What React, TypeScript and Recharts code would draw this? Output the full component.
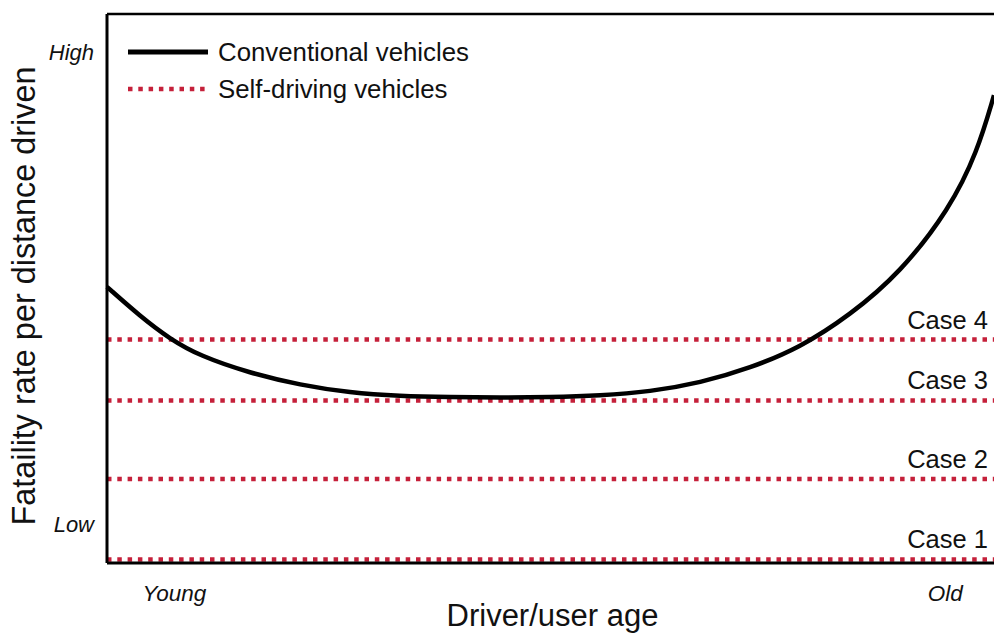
import React from "react";
import { LineChart, Line, XAxis, YAxis, ReferenceLine, Legend, Label } from "recharts";

// curve of conventional vehicles (age is 0..100 along the axis, rate is 0..100 relative)
const ages = [0, 3.7, 7.1, 10.5, 16.1, 21.8, 27.4, 33.0, 38.7, 44.3, 49.9, 55.6, 61.2, 66.9, 72.5, 78.1, 83.8, 89.4, 95.0, 98.1, 100];
const conventional = [50.3, 45.0, 40.8, 37.7, 34.6, 32.4, 31.0, 30.4, 30.2, 30.1, 30.2, 30.5, 31.2, 32.8, 35.5, 39.2, 45.2, 52.8, 64.5, 74.8, 85.2];

// self-driving cases (flat lines)
const caseNames = ["Case 1", "Case 2", "Case 3", "Case 4"];
const caseValues = [0.64, 15.3, 29.6, 40.7];

const xTickValues = [7.6, 94.5];
const xTickLabels = ["Young", "Old"];
const yTickValues = [7.0, 93.0];
const yTickLabels = ["Low", "High"];

const data = ages.map((a, i) => ({ age: a, conventional: conventional[i] }));

const RED = "#c5203a";
const FONT = "'Liberation Sans', Arial, sans-serif";

function LegendBox() {
  return (
    <div style={{ fontFamily: FONT, fontSize: 25.8, color: "#111", lineHeight: "36.6px" }}>
      <div style={{ display: "flex", alignItems: "center" }}>
        <svg width={80} height={10}>
          <line x1={0} y1={5} x2={80} y2={5} stroke="#000" strokeWidth={5} />
        </svg>
        <span style={{ marginLeft: 10 }}>Conventional vehicles</span>
      </div>
      <div style={{ display: "flex", alignItems: "center" }}>
        <svg width={80} height={10}>
          <line x1={0} y1={5} x2={80} y2={5} stroke={RED} strokeWidth={4.5} strokeDasharray="4.5 5.8" />
        </svg>
        <span style={{ marginLeft: 10 }}>Self-driving vehicles</span>
      </div>
    </div>
  );
}

export default function App() {
  return (
    <div style={{ position: "absolute", left: 0, top: 0, width: 994, height: 633, overflow: "hidden", background: "#fff" }}>
      <LineChart width={1000} height={633} data={data} margin={{ top: 14, right: 6, left: 0, bottom: 0 }}>
        <XAxis
          dataKey="age"
          type="number"
          domain={[0, 100]}
          ticks={xTickValues}
          tickFormatter={(v) => xTickLabels[xTickValues.indexOf(v)] ?? ""}
          tickLine={false}
          tickSize={0}
          tickMargin={22}
          axisLine={{ stroke: "#000", strokeWidth: 3 }}
          tick={{ fill: "#111", fontSize: 22.5, fontStyle: "italic", fontFamily: FONT }}
          height={70}
        >
          <Label
            content={({ viewBox }: any) => (
              <text x={viewBox.x + viewBox.width / 2 + 2} y={626} textAnchor="middle" fontSize={31} fontFamily={FONT} fill="#111">
                Driver/user age
              </text>
            )}
          />
        </XAxis>
        <YAxis
          type="number"
          domain={[0, 100]}
          ticks={yTickValues}
          tickFormatter={(v) => yTickLabels[yTickValues.indexOf(v)] ?? ""}
          tickLine={false}
          tickSize={0}
          tickMargin={13}
          axisLine={{ stroke: "#000", strokeWidth: 3 }}
          tick={{ fill: "#111", fontSize: 22, fontStyle: "italic", fontFamily: FONT }}
          width={107}
        >
          <Label
            content={() => (
              <text x={24} y={296} transform="rotate(-90, 24, 296)" textAnchor="middle" dy="0.35em" fontSize={32.4} fontFamily={FONT} fill="#111">
                Fataility rate per distance driven
              </text>
            )}
          />
        </YAxis>
        <ReferenceLine y={100} stroke="#000" strokeWidth={2.5} />
        {caseValues.map((v, i) => (
          <ReferenceLine
            key={caseNames[i]}
            y={v}
            stroke={RED}
            strokeWidth={4.5}
            strokeDasharray="4.5 5.8"
            label={({ viewBox }: any) => (
              <text x={viewBox.x + viewBox.width - 6} y={viewBox.y - 11} textAnchor="end" fontSize={25.5} fontFamily={FONT} fill="#111">
                {caseNames[i]}
              </text>
            )}
          />
        ))}
        <Line
          dataKey="conventional"
          type="basis"
          stroke="#000"
          strokeWidth={4.5}
          dot={false}
          activeDot={false}
          isAnimationActive={false}
        />
        <Legend
          layout="horizontal"
          verticalAlign="middle"
          align="center"
          content={() => <LegendBox />}
          wrapperStyle={{ left: 128, top: 34, width: 420 }}
        />
      </LineChart>
    </div>
  );
}
